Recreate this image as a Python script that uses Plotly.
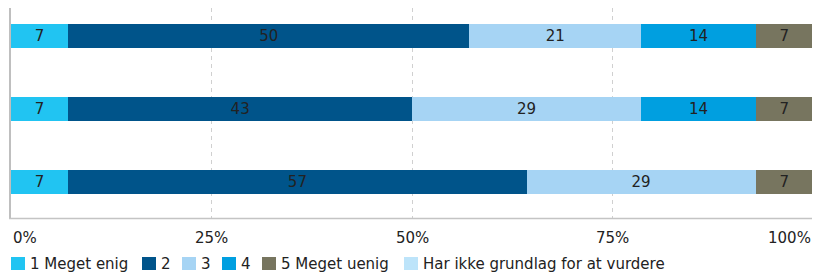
import plotly.graph_objects as go

# ---- data ----
categories = ["Spørgsmål 1", "Spørgsmål 2", "Spørgsmål 3"]
series_names = ["1 Meget enig", "2", "3", "4", "5 Meget uenig", "Har ikke grundlag for at vurdere"]
s1 = [7.14, 7.14, 7.14]
s2 = [50.0, 42.86, 57.14]
s3 = [21.43, 28.57, 28.57]
s4 = [14.29, 14.29, None]
s5 = [7.14, 7.14, 7.14]
s6 = [None, None, None]
series_values = [s1, s2, s3, s4, s5, s6]
colors = ["#21C4F2", "#00548A", "#A6D4F4", "#009FE0", "#77755F", "#BDE4FA"]
tick_values = [0, 25, 50, 75, 100]
tick_labels = ["0%", "25%", "50%", "75%", "100%"]

# ---- layout geometry ----
# page body has an 8px default margin, so the figure sits at (8, 8) on the page
OFF = 8
W, H = 820 - OFF, 280 - OFF
PL, PR, PT, PB = 11, 813, 8, 218        # plot area in page pixels
BAND = 73                               # pixels per category
FONT = "DejaVu Sans"
TXT = "#222222"


def px2x(px):
    return (px - PL) / (PR - PL)


def py2y(py):
    return (PB - py) / (PB - PT)


fig = go.Figure()
for name, vals, col in zip(series_names, series_values, colors):
    fig.add_trace(go.Bar(
        y=categories, x=vals, name=name, orientation="h",
        marker=dict(color=col, line=dict(width=0)),
        text=[f"{v:.0f}" if v else "" for v in vals],
        textposition="inside", insidetextanchor="middle", textangle=0,
        insidetextfont=dict(family=FONT, size=15, color=TXT),
        showlegend=False, hoverinfo="x+name",
    ))

shapes = []
annotations = []

# borders
shapes.append(dict(type="line", xref="paper", yref="paper", x0=px2x(10), x1=px2x(10),
                   y0=py2y(218.5), y1=1, line=dict(color="#bfbfbf", width=2), layer="above"))
shapes.append(dict(type="line", xref="paper", yref="paper", x0=px2x(9), x1=1,
                   y0=py2y(218.5), y1=py2y(218.5), line=dict(color="#c4c4c4", width=1.5), layer="above"))
shapes.append(dict(type="line", xref="paper", yref="paper", x0=px2x(812.5), x1=px2x(812.5),
                   y0=py2y(218.5), y1=1, line=dict(color="#d9d9d9", width=1), layer="above"))

# x tick labels
for v, lab in zip(tick_values, tick_labels):
    anchor = "left" if v == tick_values[0] else ("right" if v == tick_values[-1] else "center")
    annotations.append(dict(x=v, xref="x", y=py2y(238), yref="paper", text=lab,
                            showarrow=False, xanchor=anchor, yanchor="middle",
                            font=dict(family=FONT, size=15, color=TXT)))

# legend (manual)
legend_square_x = [11, 142, 182, 222, 262, 404]
for name, col, sx in zip(series_names, colors, legend_square_x):
    shapes.append(dict(type="rect", xref="paper", yref="paper",
                       x0=px2x(sx), x1=px2x(sx + 14), y0=py2y(257), y1=py2y(270),
                       fillcolor=col, line=dict(width=0)))
    annotations.append(dict(x=px2x(sx + 17), xref="paper", y=py2y(264), yref="paper",
                            text=name, showarrow=False, xanchor="left", yanchor="middle",
                            font=dict(family=FONT, size=15, color=TXT)))

ncat = len(categories)
fig.update_layout(
    width=W, height=H, barmode="stack", bargap=1 - 24 / BAND,
    margin=dict(l=PL - OFF, r=W - (PR - OFF), t=PT - OFF, b=H - (PB - OFF), pad=0),
    paper_bgcolor="white", plot_bgcolor="white",
    font=dict(family=FONT, size=15, color=TXT),
    xaxis=dict(range=[0, 100], tickvals=[25, 50, 75], showticklabels=False,
               showgrid=True, gridcolor="#d0d0d0", griddash="4px,4px", gridwidth=1,
               zeroline=False, showline=False, fixedrange=True),
    yaxis=dict(categoryorder="array", categoryarray=categories[::-1],
               showticklabels=False, showgrid=False, zeroline=False, showline=False,
               range=[-0.5, -0.5 + (PB - PT) / BAND], fixedrange=True),
    shapes=shapes, annotations=annotations, showlegend=False,
)

fig.write_html("out.html")
